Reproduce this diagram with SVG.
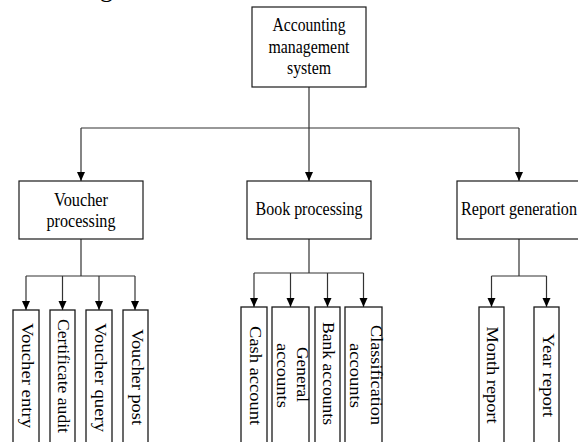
<svg xmlns="http://www.w3.org/2000/svg" width="578" height="442" viewBox="0 0 578 442">
<style>
.box{fill:#fff;stroke:#1a1a1a;stroke-width:1.2}
.cb{fill:#fff;stroke:#1a1a1a;stroke-width:1.3}
.ln{fill:none;stroke:#333;stroke-width:1.2}
.ar{fill:none;stroke:#333;stroke-width:1.2;marker-end:url(#ah)}
text{font-family:"Liberation Serif","Times New Roman",serif;fill:#000}
.h{font-size:18px;text-anchor:middle}
.v{font-size:17px;text-anchor:middle}
</style>
<defs>
<marker id="ah" markerUnits="userSpaceOnUse" markerWidth="10" markerHeight="10" refX="9.5" refY="4.5" orient="auto">
<path d="M0,0.3 L9.5,4.5 L0,8.7 Z" fill="#000"/>
</marker>
</defs>
<text x="100" y="-3" style="font-size:26px">g</text>
<g id="connectors">
<path class="ln" d="M309,87 V128 M81,128 H519"/>
<path class="ar" d="M81,128 V181"/>
<path class="ar" d="M309,128 V181"/>
<path class="ar" d="M519,128 V181"/>
<path class="ln" d="M81,239 V276 M26,276 H135"/>
<path class="ar" d="M26,276 V310"/>
<path class="ar" d="M62.5,276 V310"/>
<path class="ar" d="M99,276 V310"/>
<path class="ar" d="M135,276 V310"/>
<path class="ln" d="M309,239 V273 M254,273 H363.5"/>
<path class="ar" d="M254,273 V307"/>
<path class="ar" d="M290.5,273 V307"/>
<path class="ar" d="M327.5,273 V307"/>
<path class="ar" d="M363.5,273 V307"/>
<path class="ln" d="M519,239 V276 M491.5,276 H546.5"/>
<path class="ar" d="M491.5,276 V307"/>
<path class="ar" d="M546.5,276 V307"/>
</g>
<g id="root">
<rect class="box" x="252" y="7" width="114" height="80"/>
<text class="h" x="309" y="31" textLength="73" lengthAdjust="spacingAndGlyphs">Accounting</text>
<text class="h" x="309" y="53" textLength="81" lengthAdjust="spacingAndGlyphs">management</text>
<text class="h" x="309" y="74" textLength="44" lengthAdjust="spacingAndGlyphs">system</text>
</g>
<g id="voucher-processing">
<rect class="box" x="19" y="181" width="124" height="58"/>
<text class="h" x="81" y="206" textLength="54" lengthAdjust="spacingAndGlyphs">Voucher</text>
<text class="h" x="81" y="227" textLength="69" lengthAdjust="spacingAndGlyphs">processing</text>
</g>
<g id="book-processing">
<rect class="box" x="247" y="181" width="124" height="58"/>
<text class="h" x="309" y="215" textLength="107" lengthAdjust="spacingAndGlyphs">Book processing</text>
</g>
<g id="report-generation">
<rect class="box" x="457" y="181" width="124" height="58"/>
<text class="h" x="519" y="215" textLength="116" lengthAdjust="spacingAndGlyphs">Report generation</text>
</g>
<g id="voucher-entry">
<rect class="cb" x="13" y="310" width="26" height="140"/>
<text class="v" transform="translate(21.7,375.5) rotate(90)" textLength="105" lengthAdjust="spacingAndGlyphs">Voucher entry</text>
</g>
<g id="certificate-audit">
<rect class="cb" x="50" y="310" width="25" height="140"/>
<text class="v" transform="translate(57.5,376) rotate(90)" textLength="114" lengthAdjust="spacingAndGlyphs">Certificate audit</text>
</g>
<g id="voucher-query">
<rect class="cb" x="86" y="310" width="26" height="140"/>
<text class="v" transform="translate(94.5,377.5) rotate(90)" textLength="109" lengthAdjust="spacingAndGlyphs">Voucher query</text>
</g>
<g id="voucher-post">
<rect class="cb" x="123" y="310" width="25" height="140"/>
<text class="v" transform="translate(131.7,377) rotate(90)" textLength="96" lengthAdjust="spacingAndGlyphs">Voucher post</text>
</g>
<g id="cash-account">
<rect class="cb" x="241" y="307" width="26" height="140"/>
<text class="v" transform="translate(250,375.5) rotate(90)" textLength="99" lengthAdjust="spacingAndGlyphs">Cash account</text>
</g>
<g id="general-accounts">
<rect class="cb" x="272" y="307" width="37" height="140"/>
<text class="v" transform="translate(296.7,374.5) rotate(90)" textLength="55" lengthAdjust="spacingAndGlyphs">General</text>
<text class="v" transform="translate(277.3,375.5) rotate(90)" textLength="65" lengthAdjust="spacingAndGlyphs">accounts</text>
</g>
<g id="bank-accounts">
<rect class="cb" x="315" y="307" width="25" height="140"/>
<text class="v" transform="translate(323.3,373.5) rotate(90)" textLength="103" lengthAdjust="spacingAndGlyphs">Bank accounts</text>
</g>
<g id="classification-accounts">
<rect class="cb" x="345" y="307" width="37" height="140"/>
<text class="v" transform="translate(370.7,375) rotate(90)" textLength="100" lengthAdjust="spacingAndGlyphs">Classification</text>
<text class="v" transform="translate(350,375.5) rotate(90)" textLength="65" lengthAdjust="spacingAndGlyphs">accounts</text>
</g>
<g id="month-report">
<rect class="cb" x="479" y="307" width="25" height="140"/>
<text class="v" transform="translate(487.3,375) rotate(90)" textLength="97" lengthAdjust="spacingAndGlyphs">Month report</text>
</g>
<g id="year-report">
<rect class="cb" x="534" y="307" width="25" height="140"/>
<text class="v" transform="translate(542.5,375.3) rotate(90)" textLength="84" lengthAdjust="spacingAndGlyphs">Year report</text>
</g>
</svg>
